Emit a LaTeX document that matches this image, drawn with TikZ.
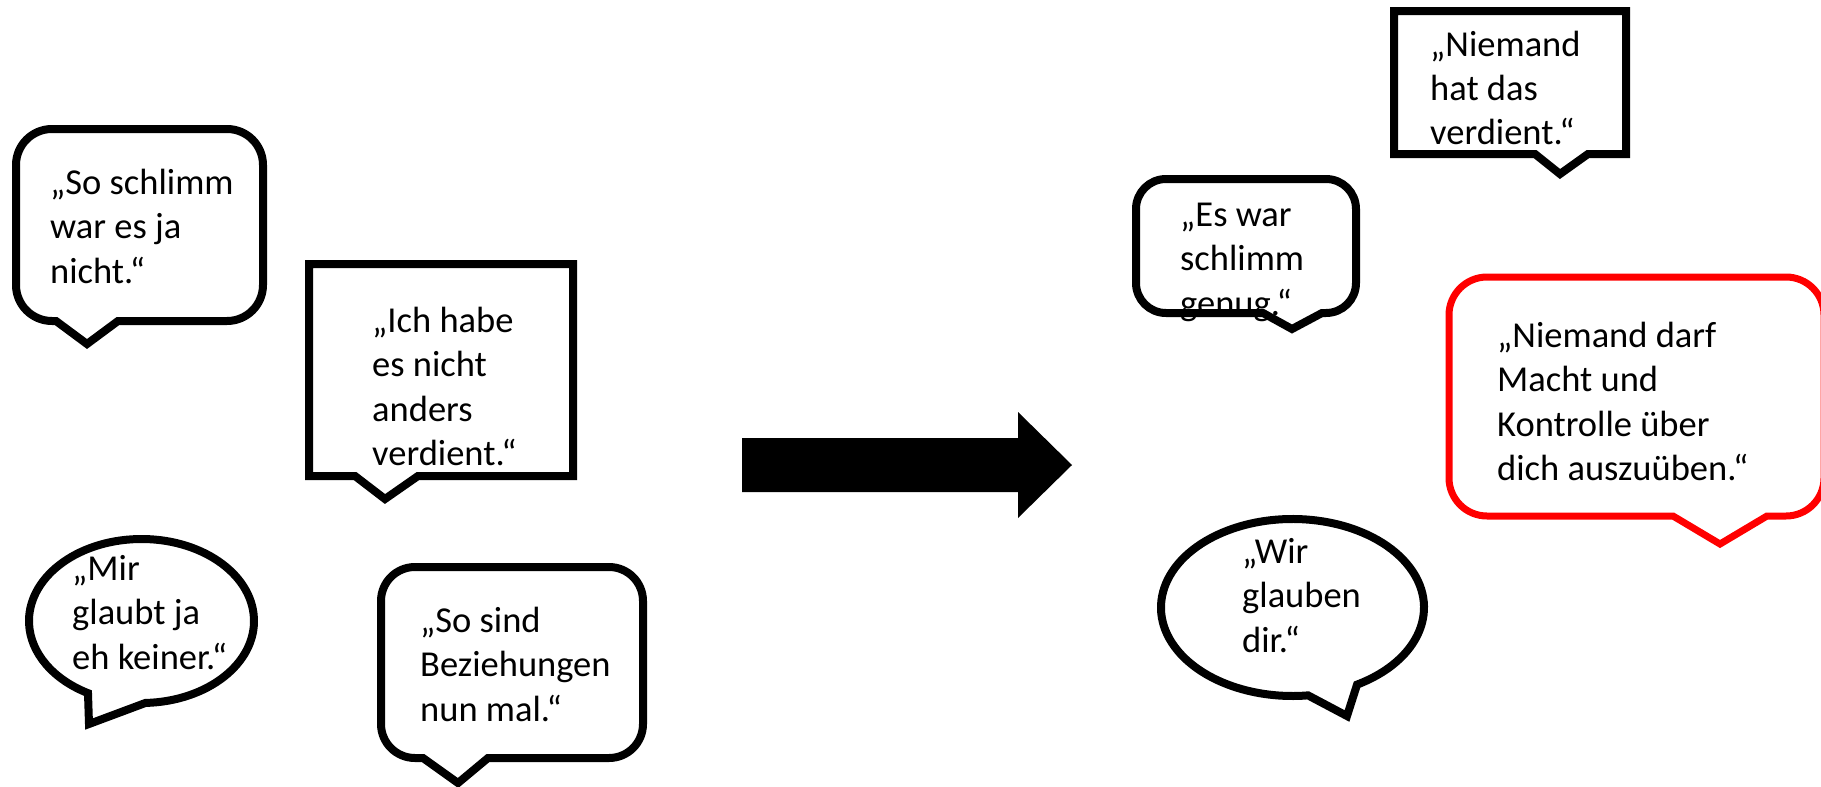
\documentclass[tikz,border=0pt]{standalone}
\usepackage{fontspec}
\setmainfont{Carlito}
\newcommand\rbub[9]{% L T R B r p1 p2 tx ty
  \draw[bubble] (#6,-#4) -- ({#1+#5},-#4) arc[start angle=270,end angle=180,radius=#5]
    -- (#1,{-#2-#5}) arc[start angle=180,end angle=90,radius=#5]
    -- ({#3-#5},-#2) arc[start angle=90,end angle=0,radius=#5]
    -- (#3,{-#4+#5}) arc[start angle=0,end angle=-90,radius=#5]
    -- (#7,-#4) -- (#8,-#9) -- cycle;}
\newcommand\sbub[8]{% L T R B p1 p2 tx ty
  \draw[bubble] (#5,-#4) -- (#1,-#4) -- (#1,-#2) -- (#3,-#2) -- (#3,-#4)
    -- (#6,-#4) -- (#7,-#8) -- cycle;}
\newcommand\ebub[8]{% cx cy rx ry a1 a2 tx ty
  \draw[bubble] ([shift={(#5:#3 and #4)}]#1,-#2) arc[start angle=#5,end angle=#6,x radius=#3,y radius=#4]
    -- (#7,-#8) -- cycle;}
\newcommand\quotetext[1]{\begin{tabular}[t]{@{}l@{}}#1\end{tabular}}
\tikzset{
  bubble/.style={draw=black, line width=8pt, fill=white, line join=miter, miter limit=10},
  txt/.style={anchor=base west, inner sep=0pt, font=\fontsize{36.5}{44.5}\selectfont},
}
\begin{document}
\begin{tikzpicture}[x=1pt,y=1pt]
\useasboundingbox (0,0) rectangle (1821,-787);
\fill[white] (0,0) rectangle (1821,-787);
\clip (0,0) rectangle (1821,-787);
% left side
\rbub{16}{129}{263}{321}{36}{56}{118}{87}{344}
\node[txt] (t1) at (50,-194) {\quotetext{„So schlimm\\war es ja\\nicht.“}};
\sbub{309}{264}{573}{476}{355}{418}{385}{499}
\node[txt] (t2) at (372,-332) {\quotetext{„Ich habe\\es nicht\\anders\\verdient.“}};
\ebub{141.5}{621}{112.5}{82}{272}{601.6}{89}{724}
\node[txt] (t3) at (72,-580) {\quotetext{„Mir\\glaubt ja\\eh keiner.“}};
\rbub{381}{567}{643}{758}{34}{423}{488}{458}{783}
\node[txt] (t4) at (420,-632) {\quotetext{„So sind\\Beziehungen\\nun mal.“}};
% arrow
\fill[black] (742,-438) -- (1018,-438) -- (1018,-412) -- (1072,-465) -- (1018,-518) -- (1018,-492) -- (742,-492) -- cycle;
% right side
\rbub{1136}{179}{1356}{313}{30}{1263}{1322}{1292}{329}
\node[txt] (t5) at (1180,-226) {\quotetext{„Es war\\schlimm\\genug.“}};
\ebub{1292.5}{607.5}{131.5}{88.5}{299.4}{636.8}{1347}{716}
\node[txt] (t6) at (1242,-563) {\quotetext{„Wir\\glauben\\dir.“}};
\sbub{1394}{11}{1626}{154}{1535}{1588}{1560}{174}
\node[txt] (t7) at (1430,-56) {\quotetext{„Niemand\\hat das\\verdient.“}};
\begin{scope}[bubble/.append style={draw=red, line width=7pt}]
\rbub{1449}{277}{1824}{516}{38}{1673}{1767}{1720}{544}
\end{scope}
\node[txt] (t8) at (1497,-347) {\quotetext{„Niemand darf\\Macht und\\Kontrolle über\\dich auszuüben.“}};
\end{tikzpicture}
\end{document}
